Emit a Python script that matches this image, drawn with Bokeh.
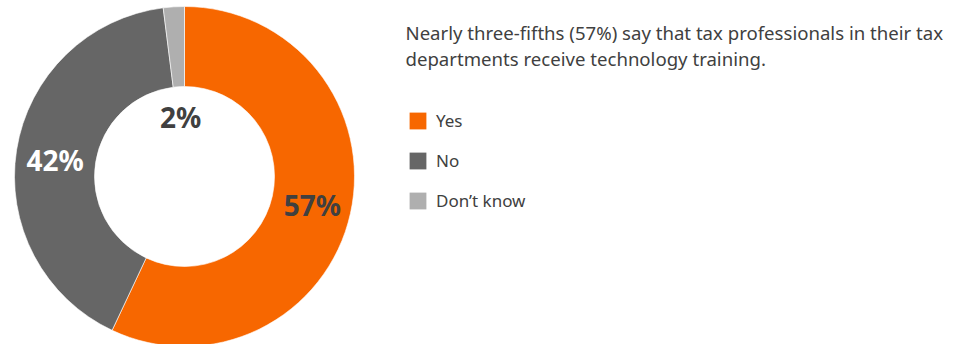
import numpy as np
from bokeh.plotting import figure
from bokeh.models import Range1d, Legend, LegendItem, ColumnDataSource
from bokeh.core.properties import value
from bokeh.embed import file_html
from bokeh.resources import INLINE

# ---- data ----
categories = ["Yes", "No", "Don\u2019t know"]
shares = [57, 41, 2]
labels = ["57%", "42%", "2%"]
colors = ["#F76700", "#666666", "#AFAFAF"]
label_colors = ["#404040", "#FFFFFF", "#404040"]
title_lines = ["Nearly three-fifths (57%) say that tax professionals in their tax",
               "departments receive technology training."]

FONT = "Noto Sans"

# ---- geometry derived from data ----
total = float(sum(shares))
frac = np.array(shares) / total
cum = np.concatenate([[0.0], np.cumsum(frac)])
start = np.pi / 2 - cum[:-1] * 2 * np.pi
end = np.pi / 2 - cum[1:] * 2 * np.pi
mid = (start + end) / 2

R_OUT, R_IN = 170, 90
lab_r = np.where(frac < 0.05, 60, 131)
lx = lab_r * np.cos(mid)
ly = lab_r * np.sin(mid) - np.where(np.cos(mid) < -0.5, 4, 0)

src = ColumnDataSource(dict(cat=categories, start=start, end=end, color=colors))
lsrc = ColumnDataSource(dict(x=lx, y=ly, text=labels, color=label_colors))

W, H = 961, 344
p = figure(width=W, height=H, output_backend="svg", toolbar_location=None,
           x_range=Range1d(-184, W - 184), y_range=Range1d(-(H - 176), 176),
           min_border=0, outline_line_color=None)
p.axis.visible = False
p.grid.visible = False
p.background_fill_color = "white"

p.annular_wedge(x=0, y=0, inner_radius=R_IN, outer_radius=R_OUT,
                start_angle="start", end_angle="end", direction="clock",
                fill_color="color", line_color="white", line_width=0.6, source=src)

p.text(x="x", y="y", text="text", text_color="color", source=lsrc,
       text_font=value(FONT), text_font_style="bold", text_font_size="28px",
       text_align="center", text_baseline="middle")

# title text (two lines)
p.text(x=[221, 221], y=[144, 118], text=title_lines, text_font=value(FONT),
       text_font_size="18.6px", text_color="#404040", text_align="left",
       text_baseline="alphabetic")

# legend swatches: zero-size quads, one per category, used only for the legend
leg_src = ColumnDataSource(dict(cat=categories, color=colors,
                                z=[0.0] * len(categories)))
leg_r = p.quad(left="z", right="z", top="z", bottom="z", fill_color="color",
               line_color=None, source=leg_src)
items = [LegendItem(label=c, renderers=[leg_r], index=i)
         for i, c in enumerate(categories)]

legend = Legend(items=items, location=(407, 132), orientation="vertical",
                glyph_width=21, glyph_height=21, label_height=17, spacing=17,
                label_standoff=8, padding=0, margin=0,
                border_line_color=None, background_fill_alpha=0,
                label_text_font=FONT, label_text_font_size="17px",
                label_text_color="#404040")
p.add_layout(legend, "center")

open("out.html", "w").write(file_html(p, INLINE))
